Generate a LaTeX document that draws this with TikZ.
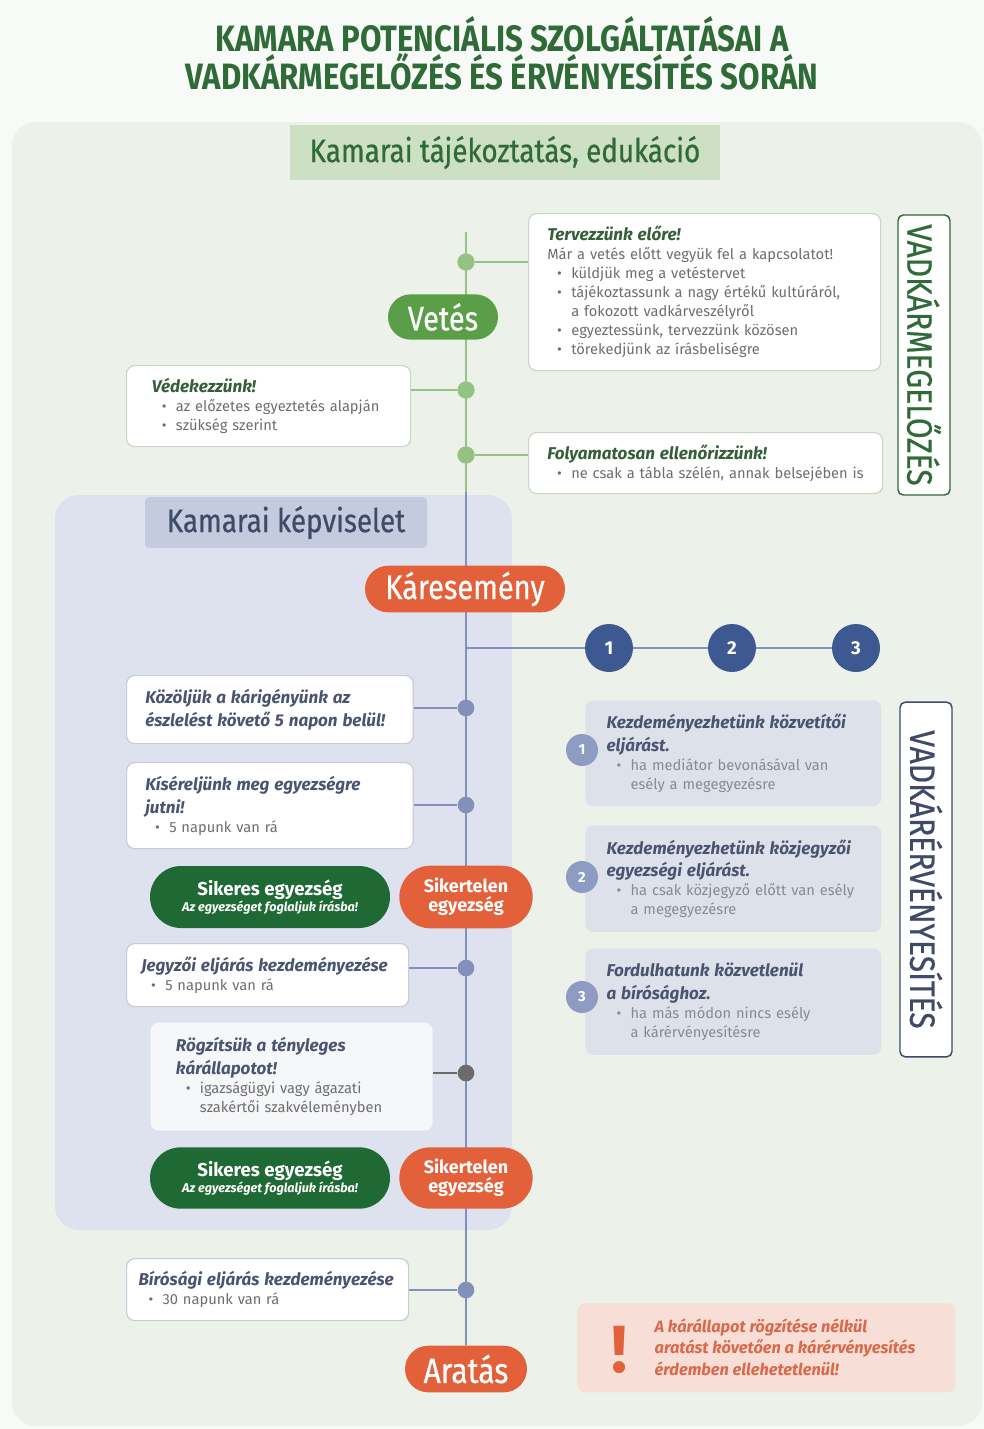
\documentclass[tikz,border=0pt]{standalone}
\usepackage{fontspec}
\setmainfont{Fira Sans}
\newfontfamily\szuk[FakeStretch=0.85]{Fira Sans}
\newfontfamily\kozep[FakeStretch=0.85,FakeBold=0.6]{Fira Sans}
\usetikzlibrary{positioning,shapes.misc}

\definecolor{lapszin}{HTML}{F8FAF7}
\definecolor{zoldpanel}{HTML}{ECF2E9}
\definecolor{cimzold}{HTML}{2E6B37}
\definecolor{eduzold}{HTML}{CEE0C4}
\definecolor{vzold}{HTML}{93C283}
\definecolor{vetesszin}{HTML}{5A9E47}
\definecolor{keret}{HTML}{CCD6C8}
\definecolor{keretkek}{HTML}{C8CCD5}
\definecolor{fejzold}{HTML}{355F38}
\definecolor{szurke}{HTML}{6E6E6E}
\definecolor{halvany}{HTML}{858A95}
\definecolor{lila}{HTML}{DDE2EE}
\definecolor{lilacim}{HTML}{C4CBDF}
\definecolor{palakek}{HTML}{3E4A68}
\definecolor{narancs}{HTML}{E2613B}
\definecolor{vkek}{HTML}{8391BA}
\definecolor{sotetkek}{HTML}{3E5891}
\definecolor{sikeresszin}{HTML}{1F6A34}
\definecolor{fejkek}{HTML}{4A5470}
\definecolor{kekdoboz}{HTML}{DDE2EA}
\definecolor{kiskorszin}{HTML}{8E9BC2}
\definecolor{rozsa}{HTML}{F7DED7}
\definecolor{intszoveg}{HTML}{D8694B}
\definecolor{sotetszurke}{HTML}{6B6B6B}
\definecolor{rogzitszin}{HTML}{F6F7F9}

\pgfdeclarelayer{hatter}
\pgfdeclarelayer{vonal}
\pgfsetlayers{hatter,vonal,main}

\newcommand{\fej}[1]{{\fontsize{12.8}{17}\selectfont\bfseries\itshape #1\par}}
\newcommand{\sor}[1]{{\color{szurke}#1\par}}
\newcommand{\pont}[1]{{\color{szurke}\hangindent=18pt\hangafter=0\noindent\llap{\textbullet\hspace{7pt}}#1\par}}
\newcommand{\hpont}[1]{{\color{halvany}\hangindent=18pt\hangafter=0\noindent\llap{\textbullet\hspace{7pt}}#1\par}}

\begin{document}
\begin{tikzpicture}[x=0.75pt, y=-0.75pt,
    infobox/.style={draw=keret, line width=0.9pt, fill=white, rounded corners=6pt, anchor=north west, align=left, inner xsep=14pt, inner ysep=5pt, font=\fontsize{11}{14.25}\selectfont},
    ebox/.style={fill=kekdoboz, rounded corners=6pt, anchor=north west, align=left, inner xsep=16pt, inner ysep=5pt, text=fejkek, font=\fontsize{11}{14.25}\selectfont},
    pill/.style={rounded rectangle, inner sep=0pt, text=white, align=center},
    zpont/.style={circle, fill=vzold, inner sep=0pt, minimum size=13pt},
    kpont/.style={circle, fill=vkek, inner sep=0pt, minimum size=12.5pt},
    szamkor/.style={circle, fill=sotetkek, text=white, inner sep=0pt, minimum size=36pt, font=\bfseries\fontsize{14}{14}\selectfont},
    kiskor/.style={circle, fill=kiskorszin, text=white, inner sep=0pt, minimum size=24pt, font=\bfseries\fontsize{11}{11}\selectfont},
    fuggo/.style={line width=1.1pt, fill=white, rounded corners=4pt, rotate=-90, minimum height=39pt, inner sep=0pt, font=\kozep\fontsize{26.5}{26.5}\selectfont},
    zvonal/.style={vzold, line width=1.8pt},
    kvonal/.style={vkek, line width=1.4pt}]

    \useasboundingbox (0,0) rectangle (984,1429);

    % Background panels
    \begin{pgfonlayer}{hatter}
        \fill[lapszin] (0,0) rectangle (984,1429);
        \fill[zoldpanel, rounded corners=18pt] (12,122) rectangle (982,1426);
        \fill[lila, rounded corners=18pt] (55,495) rectangle (512,1230);
    \end{pgfonlayer}

    % Title and headers
    \node[text=cimzold, font=\szuk\bfseries\fontsize{27.5}{24.75}\selectfont, align=center] (cim) at (502,53.5) {KAMARA POTENCIÁLIS SZOLGÁLTATÁSAI A\\VADKÁRMEGELŐZÉS ÉS ÉRVÉNYESÍTÉS SORÁN};
    \node[fill=eduzold, text=cimzold, minimum width=322.5pt, minimum height=41pt, font=\kozep\fontsize{24.5}{24.5}\selectfont] (edu) at (505,152.5) {Kamarai tájékoztatás, edukáció};
    \node[fill=lilacim, text=palakek, rounded corners=3pt, minimum width=211.5pt, minimum height=38pt, font=\kozep\fontsize{24.5}{24.5}\selectfont] (kepv) at (286,522.5) {Kamarai képviselet};

    % Prevention boxes
    \node[infobox, text=fejzold, text width=236pt, minimum height=117.75pt] (T) at (528,213) {\fej{Tervezzünk előre!}\sor{Már a vetés előtt vegyük fel a kapcsolatot!}\pont{küldjük meg a vetéstervet}\pont{tájékoztassunk a nagy értékű kultúráról,\newline a fokozott vadkárveszélyről}\pont{egyeztessünk, tervezzünk közösen}\pont{törekedjünk az írásbeliségre}};
    \node[infobox, text=fejzold, inner xsep=19pt, text width=175pt, minimum height=60.75pt] (V) at (126,365) {\fej{Védekezzünk!}\pont{az előzetes egyeztetés alapján}\pont{szükség szerint}};
    \node[infobox, text=fejzold, text width=237.5pt, minimum height=45.75pt] (F) at (528,432) {\fej{Folyamatosan ellenőrizzünk!}\pont{ne csak a tábla szélén, annak belsejében is}};
    \node[fuggo, draw=cimzold, text=cimzold, minimum width=210pt] (VM) at (924,355) {VADKÁRMEGELŐZÉS};

    % Timeline milestones
    \node[pill, fill=vetesszin, minimum width=82.5pt, minimum height=34pt, font=\kozep\fontsize{25.5}{25.5}\selectfont] (vetes) at (443,317) {Vetés};
    \node[pill, fill=narancs, minimum width=150pt, minimum height=35pt, font=\kozep\fontsize{25.5}{25.5}\selectfont] (kar) at (465,589) {Káresemény};
    \node[pill, fill=narancs, minimum width=91.5pt, minimum height=35pt, font=\kozep\fontsize{26.5}{26.5}\selectfont] (aratas) at (466,1369) {Aratás};

    % Representation boxes
    \node[infobox, draw=keretkek, text=fejkek, inner xsep=14pt, text width=187pt, minimum height=51pt] (K1) at (126,675) {\fej{Közöljük a kárigényünk az\\észlelést követő 5 napon belül!}};
    \node[infobox, draw=keretkek, text=fejkek, inner xsep=14pt, text width=187pt, minimum height=64.5pt] (K2) at (126,762) {\fej{Kíséreljünk meg egyezségre\\jutni!}\pont{5 napunk van rá}};
    \node[pill, fill=sikeresszin, minimum width=180pt, minimum height=46.5pt] (S1) at (270,897) {{\bfseries\fontsize{14}{15}\selectfont Sikeres egyezség}\\{\bfseries\itshape\fontsize{9.5}{11}\selectfont Az egyezséget foglaljuk írásba!}};
    \node[pill, fill=narancs, minimum width=100pt, minimum height=47pt, font=\bfseries\fontsize{13.5}{14}\selectfont] (N1) at (466,897) {Sikertelen\\egyezség};
    \node[infobox, draw=keretkek, text=fejkek, inner xsep=11pt, text width=189.5pt, minimum height=47.25pt] (J) at (126,943) {\fej{Jegyzői eljárás kezdeményezése}\pont{5 napunk van rá}};
    \node[infobox, draw=none, fill=rogzitszin, text=fejkek, inner xsep=19pt, text width=173.5pt, minimum height=81pt] (R) at (150,1022) {\fej{Rögzítsük a tényleges\\kárállapotot!}\pont{igazságügyi vagy ágazati\newline szakértői szakvéleményben}};
    \node[pill, fill=sikeresszin, minimum width=180pt, minimum height=46pt] (S2) at (270,1178) {{\bfseries\fontsize{14}{15}\selectfont Sikeres egyezség}\\{\bfseries\itshape\fontsize{9.5}{11}\selectfont Az egyezséget foglaljuk írásba!}};
    \node[pill, fill=narancs, minimum width=100pt, minimum height=46pt, font=\bfseries\fontsize{13.5}{14}\selectfont] (N2) at (466,1178) {Sikertelen\\egyezség};
    \node[infobox, draw=keretkek, text=fejkek, inner xsep=9pt, text width=193.5pt, minimum height=46.5pt] (B) at (126,1258) {\fej{Bírósági eljárás kezdeményezése}\pont{30 napunk van rá}};

    % Timeline dots
    \node[zpont] (dT) at (466,262) {};
    \node[zpont] (dV) at (466,390) {};
    \node[zpont] (dF) at (466,455) {};
    \node[kpont] (dK1) at (466,708) {};
    \node[kpont] (dK2) at (466,805) {};
    \node[kpont] (dJ) at (466,968) {};
    \node[kpont, fill=sotetszurke] (dR) at (466,1073) {};
    \node[kpont] (dB) at (466,1290) {};

    % Enforcement options
    \node[szamkor] (n1) at (609,648) {1};
    \node[szamkor] (n2) at (732,648) {2};
    \node[szamkor] (n3) at (856,648) {3};
    \node[ebox, text width=190pt, minimum height=79.5pt] (E1) at (585,700) {\fej{Kezdeményezhetünk közvetítői\\eljárást.}\hpont{ha mediátor bevonásával van\newline esély a megegyezésre}};
    \node[ebox, text width=190pt, minimum height=80pt] (E2) at (585,825) {\fej{Kezdeményezhetünk közjegyzői\\egyezségi eljárást.}\hpont{ha csak közjegyző előtt van esély\newline a megegyezésre}};
    \node[ebox, text width=190pt, minimum height=80pt] (E3) at (585,948) {\fej{Fordulhatunk közvetlenül\\a bírósághoz.}\hpont{ha más módon nincs esély\newline a kárérvényesítésre}};
    \node[kiskor] (k1) at (582,750) {1};
    \node[kiskor] (k2) at (582,877) {2};
    \node[kiskor] (k3) at (582,997) {3};
    \node[fuggo, draw=palakek, text=palakek, minimum width=266pt] (VE) at (926,879.5) {VADKÁRÉRVÉNYESÍTÉS};

    % Warning
    \node[fill=rozsa, rounded corners=6pt, anchor=north west, minimum width=283.5pt, minimum height=66.75pt] (W) at (577,1303) {};
    \node[text=narancs, font=\bfseries\fontsize{50}{50}\selectfont] (felkialt) at (619,1350) {!};
    \node[anchor=west, align=left, text=intszoveg, font=\bfseries\itshape\fontsize{12.3}{16}\selectfont] (Wtext) at (650,1347) {A kárállapot rögzítése nélkül\\aratást követően a kárérvényesítés\\érdemben ellehetetlenül!};

    % Lines
    \coordinate (kezdet) at (466,232);
    \coordinate (valt) at (466,492);
    \coordinate (elagazas) at (466,648);
    \begin{pgfonlayer}{vonal}
        \draw[zvonal] (kezdet) -- (valt);
        \draw[kvonal] (valt) -- (aratas);
        \draw[kvonal] (elagazas) -- (n3);
        \draw[zvonal] (dT) -- (T.west |- dT);
        \draw[zvonal] (dV) -- (V.east |- dV);
        \draw[zvonal] (dF) -- (F.west |- dF);
        \draw[kvonal] (dK1) -- (K1.east |- dK1);
        \draw[kvonal] (dK2) -- (K2.east |- dK2);
        \draw[kvonal] (dJ) -- (J.east |- dJ);
        \draw[kvonal, sotetszurke] (dR) -- (R.east |- dR);
        \draw[kvonal] (dB) -- (B.east |- dB);
    \end{pgfonlayer}
\end{tikzpicture}
\end{document}
